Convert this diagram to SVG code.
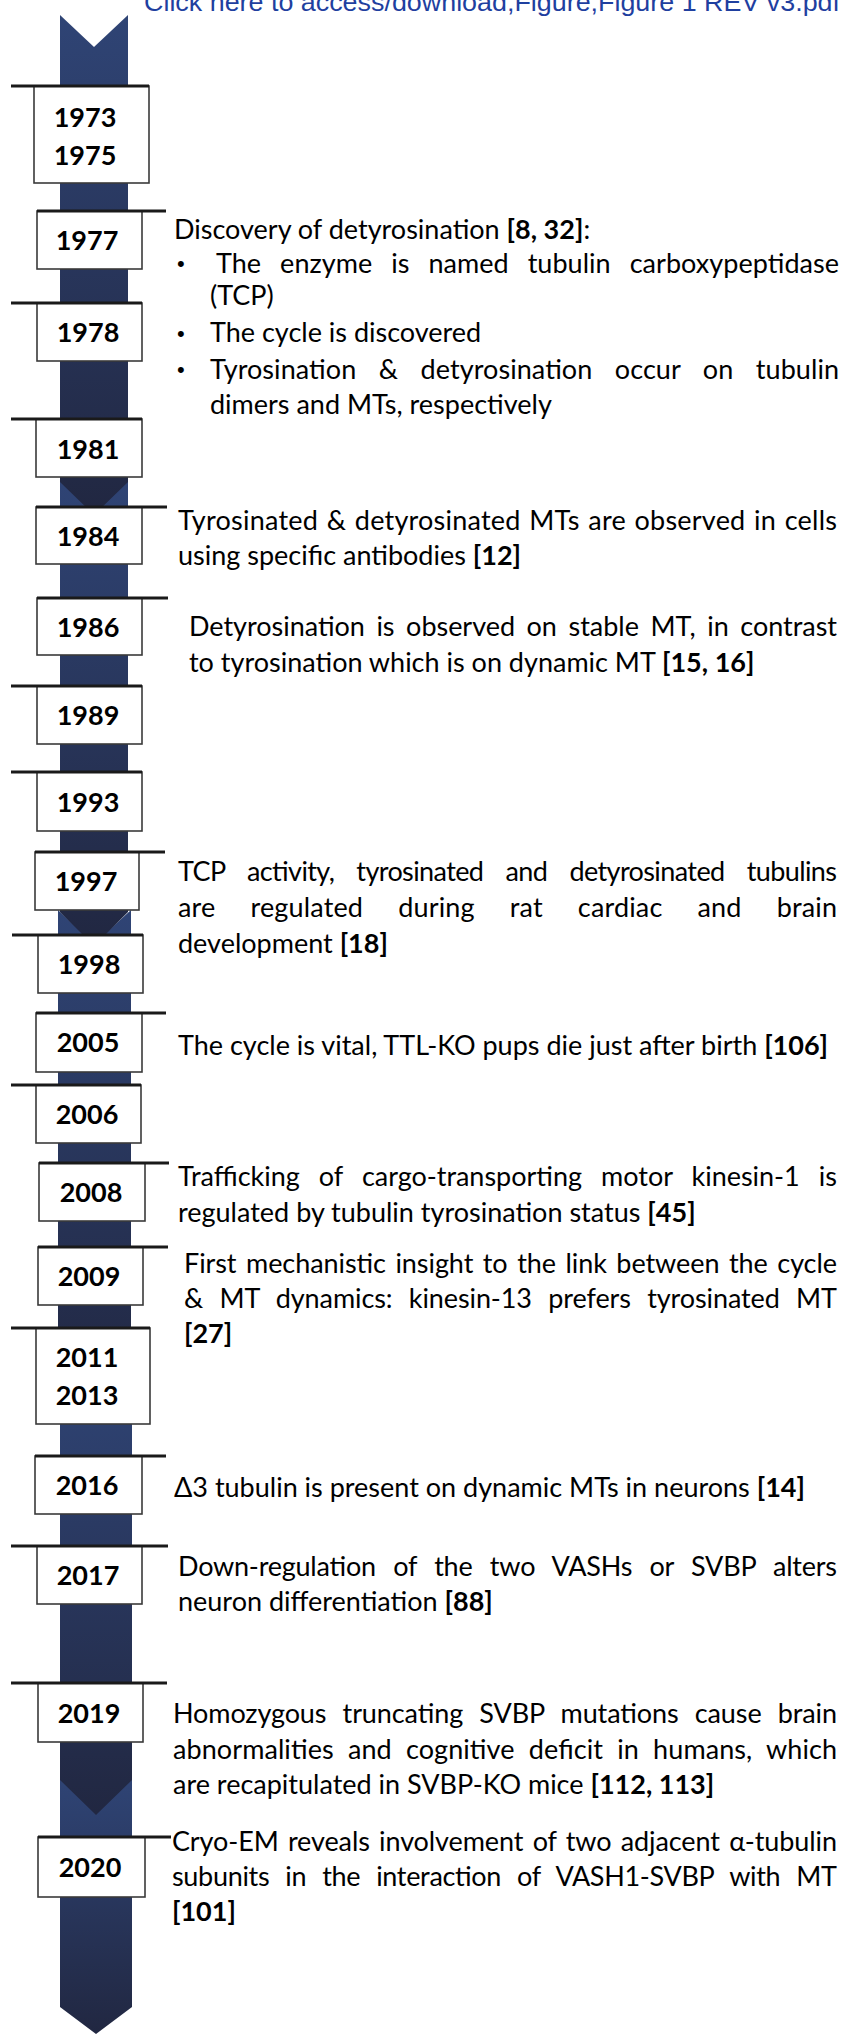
<svg xmlns="http://www.w3.org/2000/svg" width="843" height="2034" viewBox="0 0 843 2034">
<style>
.hdr{font-family:"Liberation Sans",Arial,sans-serif;font-size:26px;fill:#1f3f9f}
.t{font-family:Lato,"Noto Sans",sans-serif;font-size:27px;fill:#000}
.bul{font-family:"Liberation Sans",Arial,sans-serif;font-size:22px;fill:#000}
.b{font-weight:bold}
.yr{font-family:Lato,"Noto Sans",sans-serif;font-size:27px;font-weight:bold;fill:#000;text-anchor:middle}
.box{fill:#fff;stroke:#3a3a3a;stroke-width:1.6}
.ln{stroke:#1a1a1a;stroke-width:3;fill:none}
.seg{fill:url(#sg)}
</style>
<defs>
<linearGradient id="sg" x1="0" y1="0" x2="0" y2="1">
<stop offset="0" stop-color="#2f4475"/>
<stop offset="1" stop-color="#212741"/>
</linearGradient>
</defs>
<rect width="843" height="2034" fill="#fff"/>
<text class="hdr" x="144" y="11" textLength="696" lengthAdjust="spacingAndGlyphs">Click here to access/download;Figure;Figure 1 REV v3.pdf</text>

<g id="timeline-band">
<polygon class="seg" points="60,1778 96,1813 132,1778 132,2007 96,2034 60,2007"/>
<polygon class="seg" points="60,1370 96,1404 132,1370 132,1780 96,1815 60,1780"/>
<polygon class="seg" points="58,910 94,944 131,910 131,1372 94,1406 58,1372"/>
<polygon class="seg" points="60,480 94,513 128,480 128,912 94,946 60,912"/>
<polygon class="seg" points="60,15 94,47 128,15 128,482 94,515 60,482"/>
</g>

<g id="connectors">
</g>

<g id="y1973"><rect class="box" x="34" y="86" width="115" height="97"/><line class="ln" x1="11" y1="86" x2="149" y2="86"/><text class="yr" x="85" y="126.5">1973</text><text class="yr" x="85" y="164.5">1975</text></g>
<g id="y1977"><rect class="box" x="37" y="211" width="105" height="58"/><line class="ln" x1="37" y1="211" x2="166" y2="211"/><text class="yr" x="87" y="250">1977</text></g>
<g id="y1978"><rect class="box" x="37" y="303" width="105" height="58"/><line class="ln" x1="11" y1="303" x2="142" y2="303"/><text class="yr" x="88" y="342">1978</text></g>
<g id="y1981"><rect class="box" x="36" y="419" width="106" height="58"/><line class="ln" x1="11" y1="419" x2="142" y2="419"/><text class="yr" x="88" y="458.5">1981</text></g>
<g id="y1984"><rect class="box" x="36" y="507" width="106" height="57"/><line class="ln" x1="36" y1="507" x2="167" y2="507"/><text class="yr" x="88" y="546">1984</text></g>
<g id="y1986"><rect class="box" x="37" y="598" width="105" height="57"/><line class="ln" x1="37" y1="598" x2="168" y2="598"/><text class="yr" x="88" y="636.5">1986</text></g>
<g id="y1989"><rect class="box" x="37" y="686" width="105" height="58"/><line class="ln" x1="11" y1="686" x2="142" y2="686"/><text class="yr" x="88" y="725">1989</text></g>
<g id="y1993"><rect class="box" x="37" y="772" width="105" height="59"/><line class="ln" x1="11" y1="772" x2="142" y2="772"/><text class="yr" x="88" y="811.5">1993</text></g>
<g id="y1997"><rect class="box" x="35" y="852" width="104" height="58"/><line class="ln" x1="35" y1="852" x2="165" y2="852"/><text class="yr" x="86" y="891">1997</text></g>
<g id="y1998"><rect class="box" x="38" y="935" width="105" height="58"/><line class="ln" x1="12" y1="935" x2="143" y2="935"/><text class="yr" x="89" y="974">1998</text></g>
<g id="y2005"><rect class="box" x="36" y="1013" width="106" height="59"/><line class="ln" x1="36" y1="1013" x2="166" y2="1013"/><text class="yr" x="88" y="1052">2005</text></g>
<g id="y2006"><rect class="box" x="36" y="1085" width="105" height="58"/><line class="ln" x1="11" y1="1085" x2="141" y2="1085"/><text class="yr" x="87" y="1124">2006</text></g>
<g id="y2008"><rect class="box" x="39" y="1163" width="106" height="58"/><line class="ln" x1="39" y1="1163" x2="169" y2="1163"/><text class="yr" x="91" y="1202">2008</text></g>
<g id="y2009"><rect class="box" x="38" y="1247" width="105" height="58"/><line class="ln" x1="38" y1="1247" x2="168" y2="1247"/><text class="yr" x="89" y="1286">2009</text></g>
<g id="y2011"><rect class="box" x="36" y="1328" width="114" height="96"/><line class="ln" x1="11" y1="1328" x2="150" y2="1328"/><text class="yr" x="87" y="1367">2011</text><text class="yr" x="87" y="1405">2013</text></g>
<g id="y2016"><rect class="box" x="35" y="1456" width="107" height="58"/><line class="ln" x1="35" y1="1456" x2="166" y2="1456"/><text class="yr" x="87" y="1495">2016</text></g>
<g id="y2017"><rect class="box" x="37" y="1546" width="105" height="58"/><line class="ln" x1="11" y1="1546" x2="168" y2="1546"/><text class="yr" x="88" y="1585">2017</text></g>
<g id="y2019"><rect class="box" x="38" y="1683" width="105" height="59"/><line class="ln" x1="11" y1="1683" x2="167" y2="1683"/><text class="yr" x="89" y="1723">2019</text></g>
<g id="y2020"><rect class="box" x="38" y="1837" width="107" height="60"/><line class="ln" x1="38" y1="1837" x2="171" y2="1837"/><text class="yr" x="90" y="1877">2020</text></g>

<g id="e1977">
<text class="t" x="174" y="239">Discovery of detyrosination <tspan class="b">[8, 32]</tspan>:</text>
<text class="bul" x="177" y="271">•</text>
<text class="t" x="216" y="272.5" textLength="623" lengthAdjust="spacing" word-spacing="12">The enzyme is named tubulin carboxypeptidase</text>
<text class="t" x="210" y="305">(TCP)</text>
<text class="bul" x="177" y="340.5">•</text>
<text class="t" x="210" y="342">The cycle is discovered</text>
<text class="bul" x="177" y="377">•</text>
<text class="t" x="210" y="378.5" textLength="629" lengthAdjust="spacing" word-spacing="15.5">Tyrosination &amp; detyrosination occur on tubulin</text>
<text class="t" x="210" y="414">dimers and MTs, respectively</text>
</g>
<g id="e1984">
<text class="t" x="178" y="530" textLength="659" lengthAdjust="spacing" word-spacing="1.5">Tyrosinated &amp; detyrosinated MTs are observed in cells</text>
<text class="t" x="178" y="565">using specific antibodies <tspan class="b">[12]</tspan></text>
</g>
<g id="e1986">
<text class="t" x="189" y="636" textLength="648" lengthAdjust="spacing" word-spacing="4.7">Detyrosination is observed on stable MT, in contrast</text>
<text class="t" x="189" y="672">to tyrosination which is on dynamic MT <tspan class="b">[15, 16]</tspan></text>
</g>
<g id="e1997">
<text class="t" x="178" y="881" textLength="659" lengthAdjust="spacing" word-spacing="15.8">TCP activity, tyrosinated and detyrosinated tubulins</text>
<text class="t" x="178" y="917" textLength="659" lengthAdjust="spacing" word-spacing="28">are regulated during rat cardiac and brain</text>
<text class="t" x="178" y="953">development <tspan class="b">[18]</tspan></text>
</g>
<g id="e2005">
<text class="t" x="178" y="1055">The cycle is vital, TTL-KO pups die just after birth <tspan class="b">[106]</tspan></text>
</g>
<g id="e2008">
<text class="t" x="178" y="1186" textLength="659" lengthAdjust="spacing" word-spacing="12.2">Trafficking of cargo-transporting motor kinesin-1 is</text>
<text class="t" x="178" y="1222">regulated by tubulin tyrosination status <tspan class="b">[45]</tspan></text>
</g>
<g id="e2009">
<text class="t" x="184" y="1273" textLength="653" lengthAdjust="spacing" word-spacing="2.7">First mechanistic insight to the link between the cycle</text>
<text class="t" x="184" y="1308" textLength="653" lengthAdjust="spacing" word-spacing="9.5">&amp; MT dynamics: kinesin-13 prefers tyrosinated MT</text>
<text class="t b" x="184" y="1343">[27]</text>
</g>
<g id="e2016">
<text class="t" x="174" y="1497">Δ3 tubulin is present on dynamic MTs in neurons <tspan class="b">[14]</tspan></text>
</g>
<g id="e2017">
<text class="t" x="178" y="1576" textLength="659" lengthAdjust="spacing" word-spacing="10.7">Down-regulation of the two VASHs or SVBP alters</text>
<text class="t" x="178" y="1611">neuron differentiation <tspan class="b">[88]</tspan></text>
</g>
<g id="e2019">
<text class="t" x="173" y="1723" textLength="664" lengthAdjust="spacing" word-spacing="9.4">Homozygous truncating SVBP mutations cause brain</text>
<text class="t" x="173" y="1758.5" textLength="664" lengthAdjust="spacing" word-spacing="7.2">abnormalities and cognitive deficit in humans, which</text>
<text class="t" x="173" y="1794">are recapitulated in SVBP-KO mice <tspan class="b">[112, 113]</tspan></text>
</g>
<g id="e2020">
<text class="t" x="172" y="1851" textLength="665" lengthAdjust="spacing" word-spacing="2.5">Cryo-EM reveals involvement of two adjacent α-tubulin</text>
<text class="t" x="172" y="1886" textLength="665" lengthAdjust="spacing" word-spacing="9.4">subunits in the interaction of VASH1-SVBP with MT</text>
<text class="t b" x="172" y="1921">[101]</text>
</g>
</svg>
